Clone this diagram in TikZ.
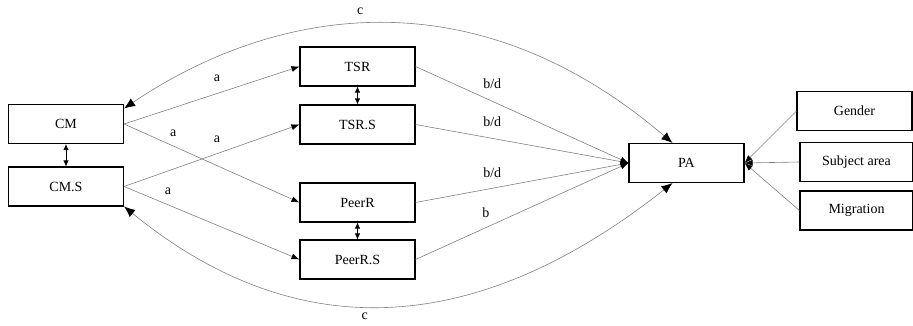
\documentclass[tikz,border=0pt]{standalone}
\usepackage{fontspec}
\setmainfont{Liberation Serif}
\usetikzlibrary{arrows.meta}

\begin{document}
\begin{tikzpicture}[x=1pt,y=-1pt,font=\fontsize{14}{16}\selectfont,>={Latex[length=8pt,width=6pt,color=black]},
  box/.style={draw,line width=1.1pt,minimum width=115pt,minimum height=39pt,inner sep=2pt},
  link/.style={->,draw=gray,line width=0.6pt},
  both/.style={<->,line width=0.7pt,>={Latex[length=6pt,width=5.5pt]}},
  lbl/.style={inner sep=0pt}]
\useasboundingbox (0,0) rectangle (913,326);
\node[box](CM) at (66,124){CM};
\node[box](CMS) at (66,186.5){CM.S};
\node[box](TSR) at (357.5,66.5){TSR};
\node[box](TSRS) at (357.5,124.5){TSR.S};
\node[box](PeerR) at (357.5,202.5){PeerR};
\node[box](PeerRS) at (357.5,259.5){PeerR.S};
\node[box](PA) at (686.5,163){PA};
\node[box](Gender) at (854.5,111){Gender};
\node[box,minimum width=113pt](Subj) at (856.5,162){Subject area};
\node[box,minimum width=113pt](Migr) at (856.5,210.5){Migration};
% a paths
\draw[link](CM.east)--(TSR.west) node[lbl,pos=.53,yshift=15pt](a1){a};
\draw[link](CM.east)--(PeerR.west) node[lbl,pos=.28,yshift=13pt](a2){a};
\draw[link](CMS.east)--(TSRS.west) node[lbl,pos=.53,yshift=14pt](a3){a};
\draw[link](CMS.east)--(PeerRS.west) node[lbl,pos=.25,yshift=13pt](a4){a};
% b paths
\draw[link](TSR.east)--(PA.west) node[lbl,pos=.36,yshift=18pt](b1){b/d};
\draw[link](TSRS.east)--(PA.west) node[lbl,pos=.36,yshift=17pt](b2){b/d};
\draw[link](PeerR.east)--(PA.west) node[lbl,pos=.36,yshift=16pt](b3){b/d};
\draw[link](PeerRS.east)--(PA.west) node[lbl,pos=.33,yshift=15pt](b4){b};
% c paths
\draw[link,<->,>={Latex[length=11pt,width=9pt,color=black]}](CM.15) .. controls (270,10) and (470,-30) .. (PA.125) node[lbl,pos=.47,yshift=13pt](c1){c};
\draw[link,<->,>={Latex[length=11pt,width=9pt,color=black]}](CMS.-19) .. controls (300,350) and (480,335) .. (PA.235) node[lbl,pos=.45,yshift=-10pt](c2){c};
% covariates
\draw[link](Gender.west)--(PA.east);
\draw[link](Subj.west)--(PA.east);
\draw[link](Migr.west)--(PA.east);
% correlations
\draw[both](CM)--(CMS);
\draw[both](TSR)--(TSRS);
\draw[both](PeerR)--(PeerRS);
\end{tikzpicture}
\end{document}
